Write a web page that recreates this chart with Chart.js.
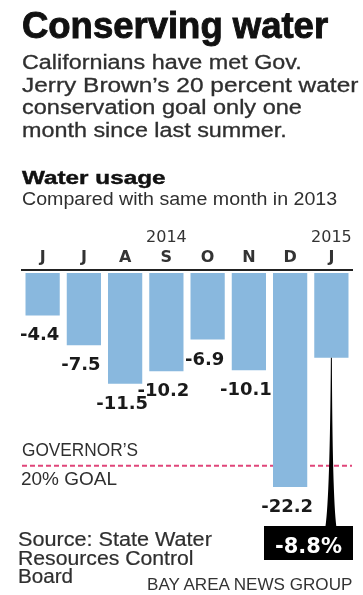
<!DOCTYPE html>
<html>
<head>
<meta charset="utf-8">
<script src="https://cdn.jsdelivr.net/npm/chart.js@4"></script>
<style>
  html, body { margin: 0; padding: 0; background: #fff; }
  #page { position: relative; width: 363px; height: 595px; overflow: hidden; }
  #page canvas { position: absolute; left: 0; top: 0; }
  .t {
    position: absolute; white-space: nowrap; line-height: 1;
    font-family: "Liberation Sans", Arial, sans-serif; color: #2f2f2f;
    transform-origin: 0 0;
  }
  .title { font-family: "Liberation Sans Narrow", "Liberation Sans", sans-serif; font-weight: bold; font-size: 36px; color: #111; -webkit-text-stroke: 0.9px #111; }
  .sub { font-size: 20px; -webkit-text-stroke: 0.3px #2f2f2f; }
  .head { font-weight: bold; font-size: 18px; color: #111; -webkit-text-stroke: 0.4px #111; }
  .note { font-size: 18px; }
  .src { font-size: 19.5px; -webkit-text-stroke: 0.2px #2f2f2f; }
  .credit { font-size: 16.5px; color: #333; }
</style>
</head>
<body>
<div id="page">
  <canvas id="usageChart" width="363" height="595"></canvas>

  <div class="t title" style="left:22px; top:7.5px" data-w="306">Conserving water</div>
  <div class="t sub" style="left:22px; top:52px" data-w="280">Californians have met Gov.</div>
  <div class="t sub" style="left:22px; top:74.5px" data-w="336">Jerry Brown’s 20 percent water</div>
  <div class="t sub" style="left:22px; top:97px" data-w="280">conservation goal only one</div>
  <div class="t sub" style="left:22px; top:119.5px" data-w="265">month since last summer.</div>

  <div class="t head" style="left:22px; top:169px" data-w="143">Water usage</div>
  <div class="t note" style="left:22px; top:190px" data-w="315">Compared with same month in 2013</div>

  <div class="t note" style="left:22px; top:441px" data-w="116">GOVERNOR’S</div>
  <div class="t note" style="left:21px; top:470px" data-w="96">20% GOAL</div>

  <div class="t src" style="left:18px; top:529.5px" data-w="194">Source: State Water</div>
  <div class="t src" style="left:18px; top:548.5px" data-w="175">Resources Control</div>
  <div class="t src" style="left:18px; top:566.5px" data-w="55">Board</div>
  <div class="t credit" style="left:147px; top:576px" data-w="205">BAY AREA NEWS GROUP</div>
</div>

<script>
// данные: изменение потребления воды к тому же месяцу 2013 года, %
const months = ['J', 'J', 'A', 'S', 'O', 'N', 'D', 'J'];
const years = ['', '', '', '2014', '', '', '', '2015'];
const usage = [-4.4, -7.5, -11.5, -10.2, -6.9, -10.1, -22.2, -8.8];
const goal = -20;
const highlightIndex = 7;

// растягиваем текст по ширине, как в оригинале
document.querySelectorAll('[data-w]').forEach(el => {
    const w = parseFloat(el.dataset.w);
    el.style.transform = `scaleX(${w / el.scrollWidth})`;
});

// пунктирная линия цели (рисуется под столбцами)
const goalLine = {
    id: 'goalLine',
    beforeDatasetsDraw(chart) {
        const { ctx, chartArea, scales } = chart;
        const y = scales.y.getPixelForValue(goal);
        ctx.save();
        ctx.strokeStyle = '#e0457a';
        ctx.lineWidth = 2;
        ctx.setLineDash([5, 3]);
        ctx.beginPath();
        ctx.moveTo(chartArea.left, y);
        ctx.lineTo(chartArea.right, y);
        ctx.stroke();
        ctx.restore();
    }
};

// годы над буквами месяцев
const yearLabels = {
    id: 'yearLabels',
    afterDraw(chart) {
        const { ctx, scales } = chart;
        ctx.save();
        ctx.font = '16px "DejaVu Sans", sans-serif';
        ctx.fillStyle = '#333';
        ctx.textAlign = 'center';
        ctx.textBaseline = 'alphabetic';
        years.forEach((yr, i) => {
            if (yr) ctx.fillText(yr, scales.x.getPixelForValue(i), 242);
        });
        ctx.restore();
    }
};

// подписи значений под столбцами + выделенный последний месяц
const valueLabels = {
    id: 'valueLabels',
    afterDatasetsDraw(chart) {
        const { ctx, chartArea } = chart;
        const bars = chart.getDatasetMeta(0).data;
        ctx.save();
        bars.forEach((bar, i) => {
            const value = usage[i];
            if (i === highlightIndex) {
                const boxTop = 526, boxH = 34, boxW = 89;
                const boxRight = chartArea.right + 1;
                // тонкая стрелка от столбца к плашке
                ctx.fillStyle = '#000';
                ctx.beginPath();
                ctx.moveTo(bar.x - 0.5, bar.y);
                ctx.lineTo(bar.x + 0.5, bar.y);
                ctx.quadraticCurveTo(bar.x + 1, boxTop - 30, bar.x + 5, boxTop + 1);
                ctx.lineTo(bar.x - 6, boxTop + 1);
                ctx.quadraticCurveTo(bar.x - 1.5, boxTop - 30, bar.x - 0.5, bar.y);
                ctx.closePath();
                ctx.fill();
                ctx.fillRect(boxRight - boxW, boxTop, boxW, boxH);
                ctx.fillStyle = '#fff';
                ctx.font = 'bold 21px "DejaVu Sans", sans-serif';
                ctx.textAlign = 'center';
                ctx.textBaseline = 'alphabetic';
                ctx.fillText(value.toFixed(1) + '%', boxRight - boxW / 2, boxTop + 27);
            } else {
                ctx.fillStyle = '#1a1a1a';
                ctx.font = 'bold 18px "DejaVu Sans", sans-serif';
                ctx.textAlign = 'center';
                ctx.textBaseline = 'alphabetic';
                ctx.fillText(value.toFixed(1), bar.x - 3, bar.y + 25);
            }
        });
        ctx.restore();
    }
};

const ctx = document.getElementById('usageChart').getContext('2d');
new Chart(ctx, {
    type: 'bar',
    data: {
        labels: months,
        datasets: [{
            data: usage,
            backgroundColor: '#89b8de',
            borderWidth: 0,
            barPercentage: 0.83,
            categoryPercentage: 1
        }]
    },
    options: {
        responsive: false,
        animation: false,
        devicePixelRatio: 1,
        layout: { padding: { top: 245, right: 11, bottom: 33, left: 22 } },
        plugins: {
            legend: { display: false },
            tooltip: { enabled: false }
        },
        scales: {
            x: {
                position: 'top',
                grid: { display: false, drawTicks: false },
                border: { display: true, color: '#222', width: 2 },
                ticks: {
                    padding: 3,
                    color: '#333',
                    font: { family: '"DejaVu Sans", sans-serif', size: 16, weight: 'bold' }
                }
            },
            y: {
                display: false,
                min: -30,
                max: 0.3
            }
        }
    },
    plugins: [goalLine, yearLabels, valueLabels]
});
</script>
</body>
</html>
